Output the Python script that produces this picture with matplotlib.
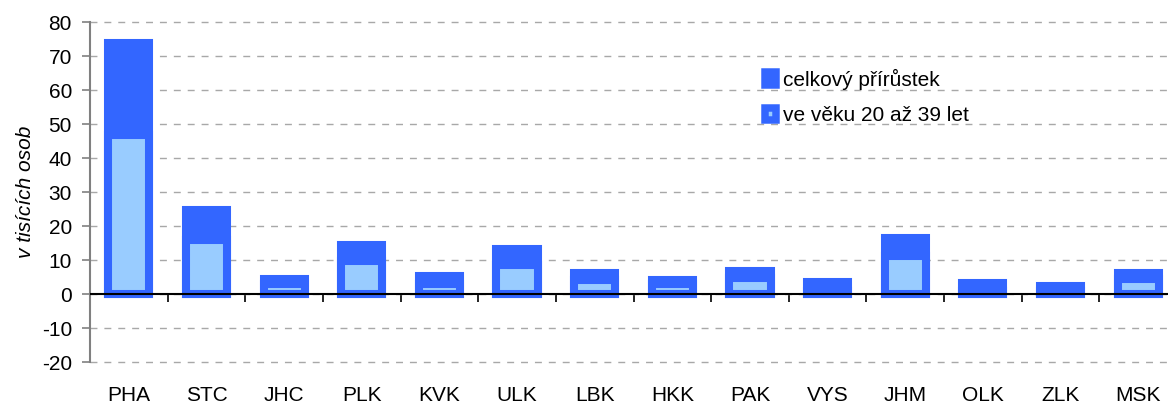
import matplotlib
matplotlib.use("Agg")
import matplotlib.pyplot as plt
from matplotlib.patches import Patch
import numpy as np

plt.rcParams['font.family'] = ['Liberation Sans', 'DejaVu Sans']
plt.rcParams['font.size'] = 15
plt.rcParams['axes.unicode_minus'] = False

regions = ["PHA", "STC", "JHC", "PLK", "KVK", "ULK", "LBK", "HKK", "PAK", "VYS", "JHM", "OLK", "ZLK", "MSK"]
total_increase = [73.8, 24.8, 4.4, 14.4, 5.2, 13.1, 6.2, 4.1, 6.7, 3.4, 16.4, 3.1, 2.5, 6.2]
age_20_39 = [46.8, 15.8, 3.0, 9.7, 3.0, 8.5, 4.1, 2.9, 4.7, 1.0, 11.2, 1.0, 0.8, 4.4]
yticks = [-20, -10, 0, 10, 20, 30, 40, 50, 60, 70, 80]
label_total = "celkový přírůstek"
label_age = "ve věku 20 až 39 let"
ylabel = "v tisících osob"

BLUE = "#3366FF"
LIGHT = "#99CCFF"
FS = 15

fig = plt.figure(figsize=(11.68, 4.03), dpi=100)
ax = fig.add_axes([90/1168, 1-362/403, 1087/1168, 340/403])

x = np.arange(len(regions))
edge_lw = 5.8
ax.bar(x, total_increase, width=0.53, color=BLUE, edgecolor=BLUE, linewidth=edge_lw, zorder=3)
ax.bar(x, age_20_39, width=0.53, color=LIGHT, edgecolor=BLUE, linewidth=edge_lw, zorder=4)

ax.set_xlim(-0.5, len(regions) - 0.5)
ax.set_ylim(yticks[0], yticks[-1])
ax.set_yticks(yticks)
ax.yaxis.grid(True, linestyle=(0, (5, 5)), color="#a8a8a8", linewidth=1.0, zorder=0)
for gl in ax.yaxis.get_gridlines():
    gl.set_clip_on(False)
ax.set_axisbelow(True)

for s in ["top", "right", "bottom"]:
    ax.spines[s].set_visible(False)
ax.spines["left"].set_color("#808080")
ax.spines["left"].set_linewidth(1.5)
ax.tick_params(axis="y", length=6, width=1.2, color="#808080", pad=7, labelsize=FS)

ax.set_xticks(x)
ax.set_xticklabels(regions)
ax.tick_params(axis="x", length=0, pad=17, labelsize=FS)

ax.axhline(0, color="black", linewidth=1.5, zorder=5)
sec = ax.secondary_xaxis((0 - yticks[0]) / (yticks[-1] - yticks[0]))
sec.spines["bottom"].set_visible(False)
sec.set_xticks(x[:-1] + 0.5)
sec.set_xticklabels([])
sec.tick_params(axis="x", length=6, width=1.2, color="black", direction="out")

ax.set_ylabel(ylabel, style="italic", fontsize=FS)
ax.yaxis.set_label_coords(-0.051, 0.5)

handles = [Patch(facecolor=BLUE, edgecolor=BLUE, linewidth=5.4, label=label_total),
           Patch(facecolor=LIGHT, edgecolor=BLUE, linewidth=5.4, label=label_age)]
fig.legend(handles=handles, loc="upper left", bbox_to_anchor=(765/1168, 1-69/403),
           frameon=False, handlelength=0.55, handleheight=0.55, handletextpad=0.3,
           labelspacing=0.78, borderpad=0, borderaxespad=0, fontsize=FS)

fig.savefig("out.png", dpi=100)
